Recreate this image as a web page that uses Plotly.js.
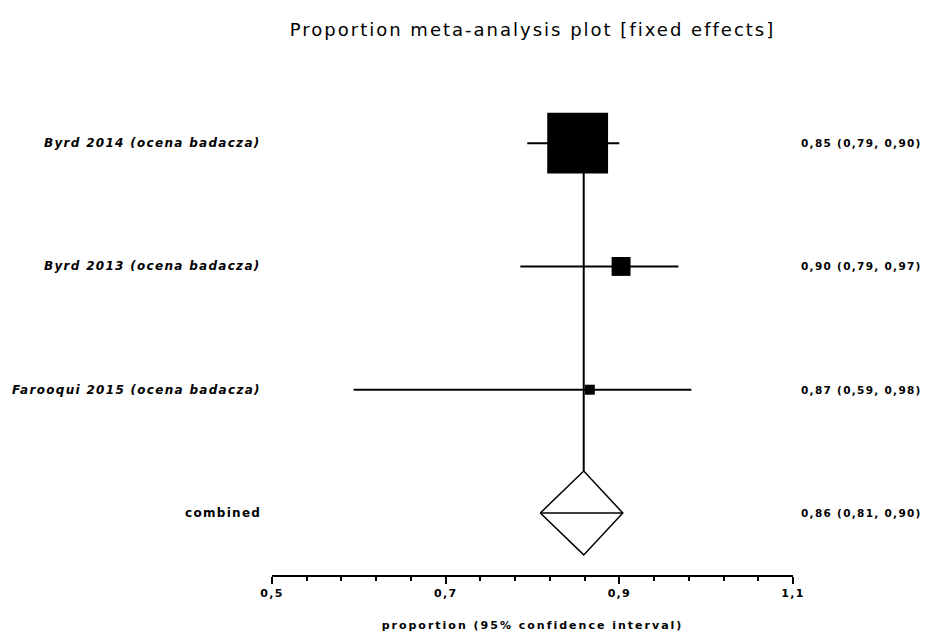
<!DOCTYPE html>
<html>
<head>
<meta charset="utf-8">
<script src="https://cdn.plot.ly/plotly-3.0.1.min.js"></script>
<style>
  html, body { margin: 0; padding: 0; background: #fff; }
  #chart { width: 926px; height: 632px; }
  /* wide, spaced lettering (applies to Plotly's measuring svg as well) */
  text { letter-spacing: 1.3px; }
  #chart .gtitle { letter-spacing: 2px; }
  #chart .xtitle { letter-spacing: 2px; }
</style>
</head>
<body>
<div id="chart"></div>
<script>
// Studies included in the pooled proportion
var studies   = ["Byrd 2014 (ocena badacza)", "Byrd 2013 (ocena badacza)", "Farooqui 2015 (ocena badacza)"];
var estimates = [0.852, 0.902, 0.866];
var ciLow     = [0.794, 0.786, 0.594];
var ciHigh    = [0.900, 0.968, 0.983];
var weights   = [89.0, 8.6, 2.4];   // % weight in the fixed-effects model

// Pooled (fixed effects) estimate
var pooledLabel = "combined";
var pooledEst   = 0.859;
var pooledLow   = 0.809;
var pooledHigh  = 0.904;

// Row positions (top to bottom) and axis ticks
var studyRows  = [4, 3, 2];
var pooledRow  = 1;
var tickValues = [0.5, 0.7, 0.9, 1.1];

var fmt = function (v) { return v.toFixed(2).replace(".", ","); };

var boxScale = 64.5;      // marker side in px for 100% weight
var diamondHalf = 0.34;   // diamond half-height in row units

var traces = [];

// Confidence interval lines, drawn first so the squares sit on top
var ciX = [], ciY = [];
studies.forEach(function (s, i) {
  ciX.push(ciLow[i], ciHigh[i], null);
  ciY.push(studyRows[i], studyRows[i], null);
});
traces.push({
  type: "scatter",
  mode: "lines",
  x: ciX,
  y: ciY,
  line: { color: "#000", width: 2 },
  hoverinfo: "skip",
  showlegend: false
});

// Study squares, area proportional to weight
traces.push({
  type: "scatter",
  mode: "markers",
  x: estimates,
  y: studyRows,
  marker: {
    symbol: "square",
    color: "#000",
    opacity: 1,
    size: weights.map(function (w) { return boxScale * Math.sqrt(w / 100); }),
    line: { width: 0 }
  },
  hoverinfo: "skip",
  showlegend: false
});

// Pooled diamond
traces.push({
  type: "scatter",
  mode: "lines",
  x: [pooledLow, pooledEst, pooledHigh, pooledEst, pooledLow],
  y: [pooledRow, pooledRow + diamondHalf, pooledRow, pooledRow - diamondHalf, pooledRow],
  fill: "toself",
  fillcolor: "#fff",
  line: { color: "#000", width: 1.5 },
  hoverinfo: "skip",
  showlegend: false
});

// Pooled interval line across the diamond
traces.push({
  type: "scatter",
  mode: "lines",
  x: [pooledLow, pooledHigh],
  y: [pooledRow, pooledRow],
  line: { color: "#000", width: 1.5 },
  hoverinfo: "skip",
  showlegend: false
});

var labelFont = { family: "DejaVu Sans, sans-serif", size: 12, color: "#000", weight: "bold", style: "italic" };
var valueFont = { family: "DejaVu Sans, sans-serif", size: 10.5, color: "#000", weight: "bold" };

var annotations = [];
studies.forEach(function (s, i) {
  annotations.push({
    xref: "paper", yref: "y", x: -0.017, y: studyRows[i],
    text: s, showarrow: false, xanchor: "right", yanchor: "middle", font: labelFont
  });
  annotations.push({
    xref: "paper", yref: "y", x: 1.012, y: studyRows[i],
    text: fmt(estimates[i]) + " (" + fmt(ciLow[i]) + ", " + fmt(ciHigh[i]) + ")",
    showarrow: false, xanchor: "left", yanchor: "middle", font: valueFont
  });
});
annotations.push({
  xref: "paper", yref: "y", x: -0.017, y: pooledRow,
  text: pooledLabel, showarrow: false, xanchor: "right", yanchor: "middle",
  font: { family: "DejaVu Sans, sans-serif", size: 12, color: "#000", weight: "bold" }
});
annotations.push({
  xref: "paper", yref: "y", x: 1.012, y: pooledRow,
  text: fmt(pooledEst) + " (" + fmt(pooledLow) + ", " + fmt(pooledHigh) + ")",
  showarrow: false, xanchor: "left", yanchor: "middle", font: valueFont
});

var layout = {
  width: 926,
  height: 632,
  paper_bgcolor: "#fff",
  plot_bgcolor: "#fff",
  separators: ",.",
  margin: { l: 272, r: 133, t: 100, b: 57 },
  title: {
    text: "Proportion meta-analysis plot [fixed effects]",
    font: { family: "DejaVu Sans, sans-serif", size: 18, color: "#000" },
    x: 0.5, xref: "paper", xanchor: "center",
    y: 1 - 30 / 632, yref: "container", yanchor: "middle"
  },
  xaxis: {
    range: [0.5, 1.1],
    tickmode: "array",
    tickvals: tickValues,
    ticktext: tickValues.map(function (v) { return v.toFixed(1).replace(".", ","); }),
    ticks: "outside",
    ticklen: 7,
    tickwidth: 2,
    tickcolor: "#000",
    minor: { dtick: 0.04, tick0: 0.5, ticks: "outside", ticklen: 4, tickwidth: 2, tickcolor: "#000", showgrid: false },
    showline: true,
    linecolor: "#000",
    linewidth: 2,
    showgrid: false,
    zeroline: false,
    tickfont: { family: "DejaVu Sans, sans-serif", size: 11, color: "#000", weight: "bold" },
    title: {
      text: "proportion (95% confidence interval)",
      font: { family: "DejaVu Sans, sans-serif", size: 11, color: "#000", weight: "bold" },
      standoff: 24
    },
    fixedrange: true
  },
  yaxis: {
    range: [0.497, 4.35],
    visible: false,
    showgrid: false,
    zeroline: false,
    fixedrange: true
  },
  shapes: [
    {
      type: "line", layer: "below",
      xref: "x", yref: "y",
      x0: pooledEst, x1: pooledEst,
      y0: pooledRow + diamondHalf, y1: studyRows[0],
      line: { color: "#000", width: 2 }
    }
  ],
  annotations: annotations
};

Plotly.newPlot("chart", traces, layout, { displayModeBar: false, staticPlot: true });
</script>
</body>
</html>
